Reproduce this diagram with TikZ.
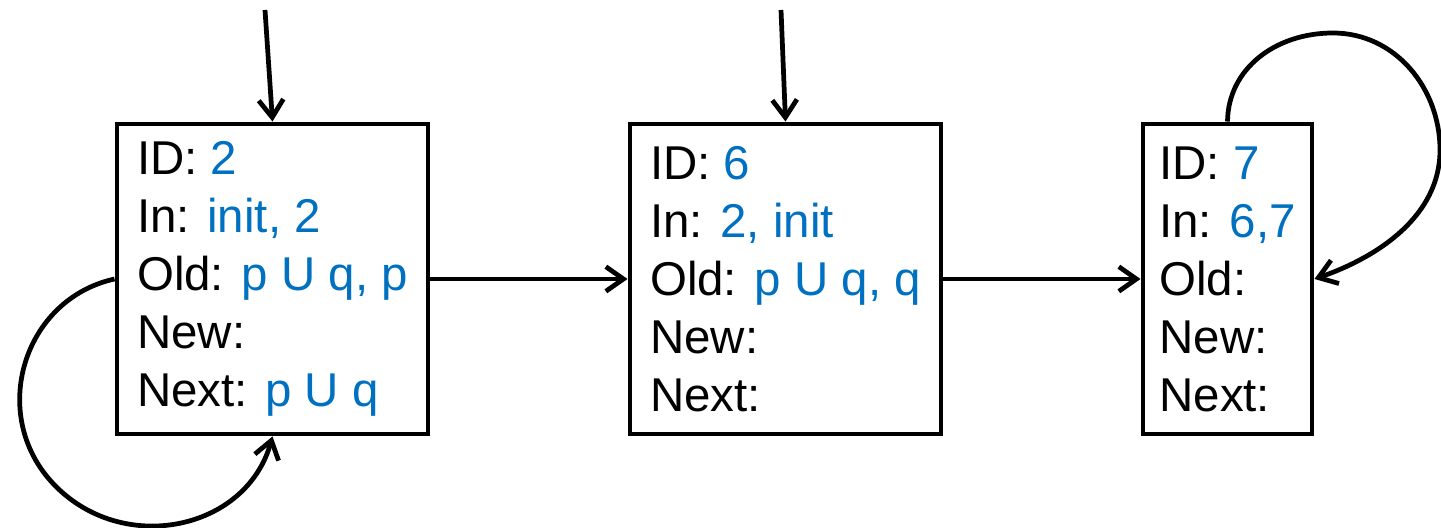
\documentclass[tikz,border=0pt]{standalone}
\usepackage{fontspec}
\setmainfont{Liberation Sans}
\usetikzlibrary{arrows.meta}
\definecolor{valblue}{RGB}{0,112,192}
\newcommand{\val}[1]{\textcolor{valblue}{#1}}
\begin{document}
\begin{tikzpicture}[line width=2.7pt, >={Straight Barb[length=10pt,width=14pt,line width=2.7pt]},
  every node/.style={font=\fontsize{27}{33}\selectfont},
  nodebox/.style={draw, line width=2.8pt, align=left, inner sep=0pt, minimum height=6.2cm}]
    \useasboundingbox (0,0) rectangle (28.82,10.54);

    \node [nodebox, minimum width=6.22cm] (N2) at (5.45,4.96) {ID: \val{2}\\In: \val{init, 2}\\Old: \val{p U q, p}\\New:\\Next: \val{p U q}};
    \node [nodebox, minimum width=6.22cm] (N6) at (15.71,4.96) {ID: \val{6}\\In: \val{2, init}\\Old: \val{p U q, q}\\New:\\Next:};
    \node [nodebox, minimum width=3.38cm] (N7) at (24.55,4.96) {ID: \val{7}\\In: \val{6,7}\\Old:\\New:\\Next:};

    \coordinate (s2) at (5.30,10.34);
    \coordinate (s6) at (15.62,10.34);
    \coordinate (m2) at (1.07,0.86);
    \coordinate (t7) at (26.66,9.88);
    \coordinate (r7) at (28.80,7.54);

    \path [->] (s2) edge (N2.north);
    \path [->] (s6) edge (N6.north);
    \path [->] (N2) edge (N6);
    \path [->] (N6) edge (N7);

    % self loops
    \draw [->] (N2.west) .. controls (0.47,4.56) and (-0.25,2.25) .. (m2)
        .. controls (2.45,-0.59) and (4.93,-0.07) .. (N2.south);
    \draw [->] (N7.north) .. controls (24.56,9.16) and (25.50,9.88) .. (t7)
        .. controls (27.90,9.88) and (28.80,8.78) .. (r7)
        .. controls (28.80,6.22) and (27.56,5.40) .. (N7.east);
\end{tikzpicture}
\end{document}
